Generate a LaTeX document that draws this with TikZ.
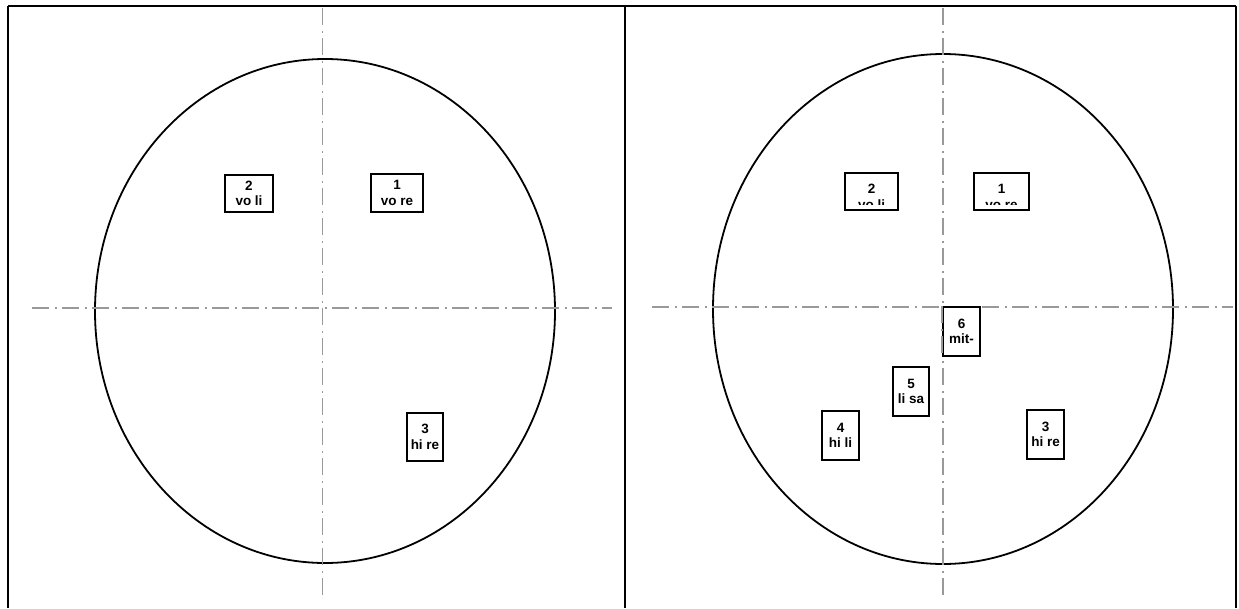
\documentclass[tikz,border=0pt]{standalone}
\usepackage{fontspec}
\setmainfont{Liberation Sans}
\definecolor{ink}{HTML}{000000}
\definecolor{axisgray}{HTML}{999999}
\tikzset{
  frame/.style={draw=ink,line width=1.3pt},
  rim/.style={draw=ink,line width=1.8pt},
  axisline/.style={draw=axisgray,line width=1.3pt,
    dash pattern=on 17pt off 6pt on 2pt off 5pt},
  tag/.style={draw=ink,line width=1.8pt,fill=white,inner sep=0pt,align=center,
    font=\fontsize{13.5}{15.5}\selectfont\bfseries},
  cuttag/.style={tag,path picture={
      \clip ([yshift=5.5pt]path picture bounding box.south west)
        rectangle (path picture bounding box.north east);
      \node[font=\fontsize{13.5}{15.5}\selectfont\bfseries,align=center,
        inner sep=0pt,anchor=north]
        at ([yshift=-4.5pt]path picture bounding box.north) {#1};}}
}

\begin{document}
\begin{tikzpicture}[x=1pt,y=-1pt]
\useasboundingbox (0,0) rectangle (1239,608);
% frame
\coordinate (tl) at (8,6);
\coordinate (tm) at (625,6);
\coordinate (tr) at (1236,6);
\draw[frame,line width=2.6pt] (tl) -- (tr);
\draw[frame] (tl) -- (8,608);
\draw[frame] (tm) -- (625,608);
\draw[frame] (tr) -- (1236,608);

% left view
\coordinate (lc) at (325,311);
\draw[rim] (lc) ellipse [x radius=230,y radius=252];
\coordinate (lw) at (32,308);
\coordinate (le) at (612,308);
\coordinate (ln) at (322.7,8);
\coordinate (ls) at (322.7,600);
\draw[axisline] (lw) -- (le);
\draw[axisline] (ln) -- (ls);
\node[tag,minimum width=48,minimum height=37] (lvoli) at (249,193.5) {2\\vo li};
\node[tag,minimum width=52,minimum height=38] (lvore) at (397,193) {1\\vo re};
\node[tag,minimum width=36,minimum height=48] (lhire) at (425,437) {3\\hi re};

% right view
\coordinate (rc) at (943,309);
\draw[rim] (rc) ellipse [x radius=230,y radius=255];
\coordinate (rw) at (652,307);
\coordinate (re) at (1233,307);
\coordinate (rn) at (943,8);
\coordinate (rs) at (943,599);
\draw[axisline] (rw) -- (re);
\draw[axisline] (rn) -- (rs);
\node[cuttag={2\\vo li},minimum width=53,minimum height=37] (rvoli) at (871.5,191.5) {};
\node[cuttag={1\\vo re},minimum width=55,minimum height=37] (rvore) at (1001.5,191.5) {};
\node[tag,minimum width=37,minimum height=49] (rmit) at (961.5,331.5) {6\\mit-};
\node[tag,minimum width=36,minimum height=49] (rlisa) at (911,391.5) {5\\li sa};
\node[tag,minimum width=37,minimum height=49] (rhili) at (840.5,435.5) {4\\hi li};
\node[tag,minimum width=37,minimum height=49] (rhire) at (1045.5,434.5) {3\\hi re};
\draw[axisline] (rmit.north west) -- (rmit.south west);
\end{tikzpicture}
\end{document}
